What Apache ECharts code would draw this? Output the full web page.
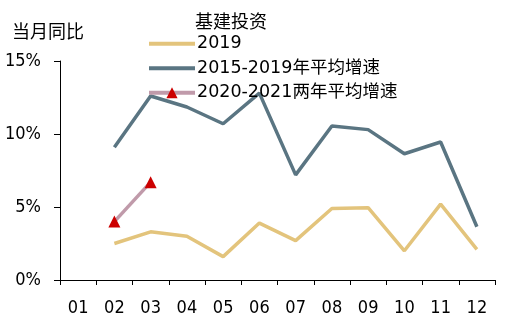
<!DOCTYPE html>
<html><head><meta charset="utf-8">
<script src="https://cdn.jsdelivr.net/npm/echarts@6/dist/echarts.min.js"></script>
<style>html,body{margin:0;padding:0;background:#fff}#c{width:505px;height:322px}</style>
</head><body><div id="c"></div>
<script>
const categories = ['01','02','03','04','05','06','07','08','09','10','11','12'];
const s2019 = [null,2.5,3.3,3.0,1.6,3.9,2.7,4.9,4.95,2.0,5.2,2.1];
const s1519 = [null,9.1,12.6,11.85,10.7,12.8,7.2,10.55,10.3,8.65,9.45,3.65];
const s2021 = [null,4.0,6.7,null,null,null,null,null,null,null,null,null];
const yTicks = [0,5,10,15];
const names = ['2019','2015-2019年平均增速','2020-2021两年平均增速'];
const FF = '"DejaVu Sans Condensed","Noto Sans CJK SC",sans-serif';
const chart = echarts.init(document.getElementById('c'));
chart.setOption({
  animation:false,
  grid:{left:60,right:10,top:61,bottom:42},
  graphic:[
    {type:'text',left:12,top:24,style:{text:'当月同比',font:'18px '+FF,fill:'#000'}},
    {type:'text',left:195,top:14,style:{text:'基建投资',font:'18px '+FF,fill:'#000'}}
  ],
  legend:{orient:'vertical',left:147,top:35,padding:0,itemWidth:46,itemHeight:14,itemGap:7,
    lineStyle:{width:4},
    textStyle:{color:'#000',padding:[0,0,0,-3],fontSize:17.5,fontFamily:'"DejaVu Sans","Noto Sans CJK SC",sans-serif'},
    data:[{name:names[0],itemStyle:{opacity:0}},{name:names[1],itemStyle:{opacity:0}},{name:names[2]}]},
  xAxis:{type:'category',data:categories,boundaryGap:true,
    axisLine:{lineStyle:{color:'#000',width:1}},
    axisTick:{show:true,lineStyle:{color:'#000'},length:5},
    axisLabel:{color:'#000',fontSize:18,fontFamily:FF,margin:19}},
  yAxis:{type:'value',min:0,max:15,interval:5,
    axisLine:{show:true,lineStyle:{color:'#000'}},
    axisTick:{show:true,inside:false,length:6,lineStyle:{color:'#000'}},
    splitLine:{show:false},
    axisLabel:{color:'#000',fontSize:18,fontFamily:FF,margin:19,formatter:v=>yTicks.includes(v)?v+'%':''}},
  series:[
    {name:names[0],type:'line',data:s2019,symbol:'none',lineStyle:{color:'#E3C47C',width:3.5},itemStyle:{color:'#E3C47C'}},
    {name:names[1],type:'line',data:s1519,symbol:'none',lineStyle:{color:'#5A7582',width:3.5},itemStyle:{color:'#5A7582'}},
    {name:names[2],type:'line',data:s2021,symbol:'triangle',symbolSize:12,showAllSymbol:true,
      lineStyle:{color:'#C09AAA',width:3.5},itemStyle:{color:'#CC0000'}}
  ]
});
</script></body></html>
